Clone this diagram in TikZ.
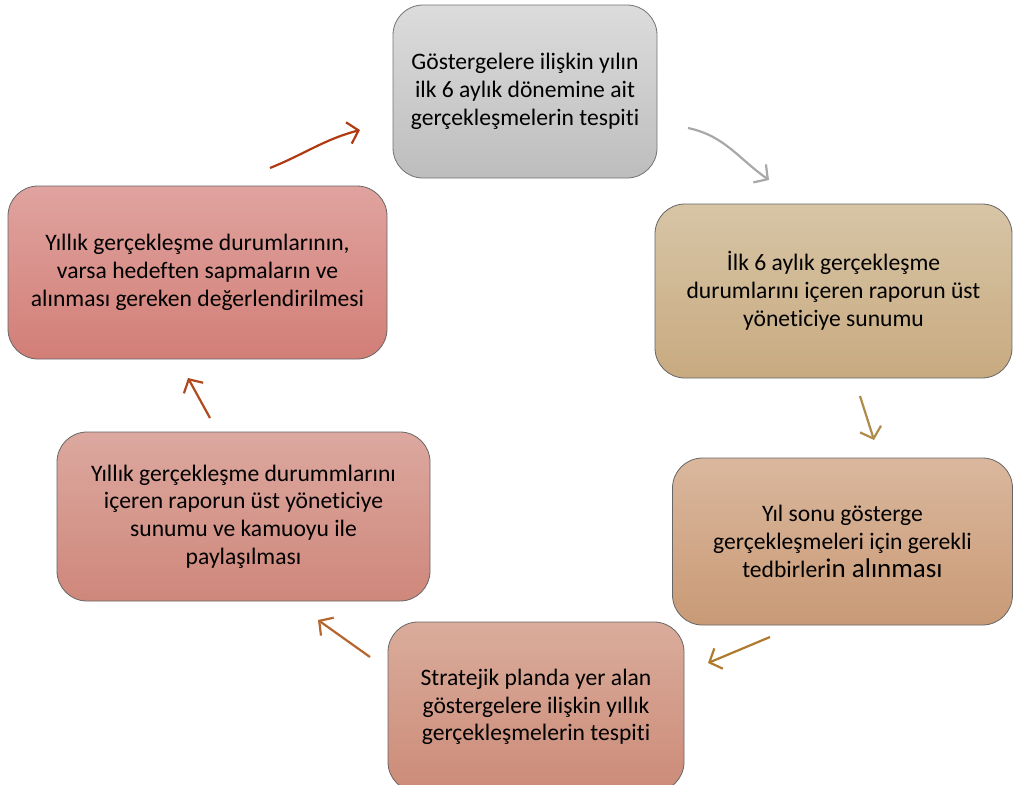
\documentclass[tikz,border=0pt]{standalone}
\usepackage{fontspec}
\setmainfont[Ligatures=NoCommon]{Carlito}
\usetikzlibrary{arrows.meta}
\definecolor{g1}{HTML}{DCDCDC}\definecolor{g2}{HTML}{BDBDBD}
\definecolor{t1}{HTML}{D7C5A6}\definecolor{t2}{HTML}{C8AA80}
\definecolor{o1}{HTML}{DAB79D}\definecolor{o2}{HTML}{C99A76}
\definecolor{p1}{HTML}{DAAC9B}\definecolor{p2}{HTML}{CC8B78}
\definecolor{r1}{HTML}{DCA89F}\definecolor{r2}{HTML}{CF877B}
\definecolor{s1}{HTML}{E0A39F}\definecolor{s2}{HTML}{D27E77}
\definecolor{agray}{HTML}{A8A8A8}
\definecolor{atan}{HTML}{B08C4C}
\definecolor{aorange}{HTML}{B07A2C}
\definecolor{abrown}{HTML}{B5652E}
\definecolor{ared}{HTML}{B0491E}
\definecolor{ared2}{HTML}{B23A12}
\tikzset{
  box/.style={rounded corners=30pt, draw=#1, line width=0.8pt, align=center,
    font=\fontsize{23.6}{27.8}\selectfont, inner sep=0pt},
  arr/.style={draw=#1, line width=2.2pt, -{Straight Barb[length=10pt,width=22pt,line width=2.2pt]}},
}
\begin{document}
\begin{tikzpicture}[x=1pt,y=1pt]
\useasboundingbox (0,0) rectangle (1013,-785);
\node[box=black!55, top color=g1, bottom color=g2, minimum width=264pt, minimum height=173pt] (b1) at (525,-91.5)
  {Göstergelere ilişkin yılın\\ilk 6 aylık dönemine ait\\gerçekleşmelerin tespiti};
\node[box=black!60, top color=t1, bottom color=t2, minimum width=357pt, minimum height=174pt] (b2) at (833.5,-291)
  {İlk 6 aylık gerçekleşme\\durumlarını içeren raporun üst\\yöneticiye sunumu};
\node[box=black!60, top color=o1, bottom color=o2, minimum width=340pt, minimum height=167pt] (b3) at (842.5,-541.5)
  {Yıl sonu gösterge\\gerçekleşmeleri için gerekli\\tedbirler{\fontsize{27}{27.8}\selectfont in alınması}};
\node[box=black!60, top color=p1, bottom color=p2, minimum width=296pt, minimum height=170pt] (b4) at (536,-707)
  {Stratejik planda yer alan\\göstergelere ilişkin yıllık\\gerçekleşmelerin tespiti};
\node[box=black!60, top color=r1, bottom color=r2, minimum width=373pt, minimum height=169pt] (b5) at (243.5,-516.5)
  {Yıllık gerçekleşme durummlarını\\içeren raporun üst yöneticiye\\sunumu ve kamuoyu ile\\paylaşılması};
\node[box=black!60, top color=s1, bottom color=s2, minimum width=379pt, minimum height=173pt] (b6) at (197.5,-272.5)
  {Yıllık gerçekleşme durumlarının,\\varsa hedeften sapmaların ve\\alınması gereken değerlendirilmesi};
\coordinate (a1s) at (688,-128); \coordinate (a1e) at (769,-180);
\coordinate (a2s) at (860,-396); \coordinate (a2e) at (874,-440);
\coordinate (a3s) at (770,-637); \coordinate (a3e) at (708,-663);
\coordinate (a4s) at (370,-657); \coordinate (a4e) at (318,-620);
\coordinate (a5s) at (210,-418); \coordinate (a5e) at (188,-378);
\coordinate (a6s) at (270,-168); \coordinate (a6e) at (360,-130);
\draw[arr=agray] (a1s) to[out=-12,in=145] (a1e);
\draw[arr=atan] (a2s) -- (a2e);
\draw[arr=aorange] (a3s) -- (a3e);
\draw[arr=abrown] (a4s) -- (a4e);
\draw[arr=ared] (a5s) -- (a5e);
\draw[arr=ared2] (a6s) to[out=22,in=195] (a6e);
\end{tikzpicture}
\end{document}
